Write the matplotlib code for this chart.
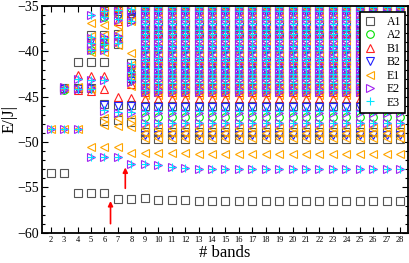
import matplotlib
matplotlib.use('Agg')
import matplotlib.pyplot as plt
from matplotlib.ticker import MultipleLocator

plt.rcParams['font.family'] = ['Liberation Serif', 'DejaVu Serif']

## Data

bands = list(range(2, 29))

# lowest clean levels, one entry per band (None = absent)
a1_low = [-53.4, -53.4, -55.6, -55.6, -55.6, -56.3, -56.3, -56.2, -56.4, -56.4,
          -56.4, -56.5, -56.5, -56.5, -56.5, -56.5, -56.5, -56.5, -56.5, -56.5,
          -56.5, -56.5, -56.5, -56.5, -56.5, -56.5, -56.5]
e1_low = [None, None, None, -50.5, -50.5, -50.5, -51.2, -51.2, -51.2, -51.2,
          -51.2, -51.3, -51.3, -51.3, -51.3, -51.3, -51.3, -51.3, -51.3, -51.3,
          -51.3, -51.3, -51.3, -51.3, -51.3, -51.3, -51.3]
e23_low = [-48.6, -48.6, -48.6, -51.6, -51.6, -51.6, -52.4, -52.4, -52.5, -52.7,
           -52.9, -53.0, -53.0, -53.0, -53.0, -53.0, -53.0, -53.0, -53.0, -53.0,
           -53.0, -53.0, -53.0, -53.0, -53.0, -53.0, -53.0]
e1_first = [-48.6, -48.6, -48.6]   # bands 2-4

# levels of the small bases (bands 3-8), per symmetry
A1_early = {3: [-44.0], 4: [-41.2, -44.0], 5: [-38.2, -39.5, -41.2, -44.0],
            6: [-35.6, -38.2, -39.5, -41.2, -45.8, -47.7],
            7: [-35.5, -38.1, -39.2, -45.9, -47.6],
            8: [-35.4, -36.4, -41.3, -42.9, -45.9, -47.8]}
A2_early = {3: [-44.3], 5: [-39.9], 6: [-36.2, -39.0], 7: [-35.9],
            8: [-35.2, -42.4]}
B1_early = {4: [-42.6, -44.3], 5: [-42.7, -44.4], 6: [-35.4, -42.7, -44.1],
            7: [-35.2, -36.6, -45.0], 8: [-35.8, -41.8, -43.6, -45.1]}
B2_early = {3: [-44.2], 4: [-44.1], 5: [-38.8, -44.2],
            6: [-36.0, -38.7, -45.9], 7: [-36.2, -38.6, -46.0],
            8: [-36.2, -42.2, -43.3, -46.0]}
E1_early = {3: [-44.0], 4: [-43.9],
            5: [-36.9, -38.3, -38.9, -39.6, -40.1, -44.1],
            6: [-35.2, -35.8, -37.1, -38.2, -38.9, -39.5, -40.1, -47.3, -48.1],
            7: [-35.3, -36.0, -37.1, -38.0, -38.6, -39.3, -47.4, -48.2],
            8: [-35.1, -36.6, -40.2, -41.5, -42.7, -43.8, -47.5, -48.3]}
E2_early = {3: [-43.9, -44.3], 4: [-43.0, -44.2],
            5: [-36.0, -38.5, -39.2, -39.8, -43.1, -44.0],
            6: [-35.4, -36.3, -38.4, -39.1, -39.8, -43.1, -46.6],
            7: [-35.6, -36.5, -38.3, -39.0, -46.8],
            8: [-35.5, -36.8, -41.6, -42.5, -43.4, -46.8]}
E3_early = {3: [-44.0], 4: [-43.0, -44.1],
            5: [-36.0, -38.4, -39.1, -39.9, -43.1, -44.1],
            6: [-35.5, -36.2, -38.5, -39.2, -39.9, -43.2, -46.5],
            7: [-35.4, -36.4, -38.4, -39.1, -46.7],
            8: [-35.3, -36.7, -41.4, -42.3, -43.1, -46.7]}

# converged spectrum of the larger bases (bands 9-28)
A1_dense = [-35.1, -36.9, -38.2, -40.3, -41.2, -43.1, -44.2, -46.0, -48.9, -49.7]
A2_dense = [-35.6, -37.8, -39.7, -42.6, -47.2]
B1_dense = [-35.4, -38.0, -40.9, -43.9, -44.5, -45.2]
B2_dense = [-35.5, -37.4, -39.9, -42.2, -44.4, -46.1, -49.2]
E1_dense = [-35.2, -36.3, -37.5, -38.9, -40.2, -41.5, -42.5, -43.2, -43.6, -44.0,
            -44.4, -44.8, -48.5, -49.0, -49.6]
E2_dense = [-35.3, -35.8, -36.2, -36.7, -37.1, -37.5, -38.0, -38.4, -38.8, -39.3,
            -39.6, -40.1, -40.6, -41.0, -41.4, -41.9, -42.3, -42.7, -43.2, -43.6,
            -44.1, -44.5, -46.8, -47.9]
E3_dense = [-35.1, -35.6, -36.4, -37.0, -37.6, -38.1, -38.6, -39.4, -39.9, -40.7,
            -41.1, -41.8, -42.5, -42.9, -43.5, -44.3, -46.6, -47.9]

symmetries = ['A1', 'A2', 'B1', 'B2', 'E1', 'E2', 'E3']
markers = ['s', 'o', '^', 'v', '<', '>', '+']
colors = ['#555555', '#00e000', '#ff2020', '#2020ff', '#ffa500', '#a020f0', '#00e5ff']

early = [A1_early, A2_early, B1_early, B2_early, E1_early, E2_early, E3_early]
dense = [A1_dense, A2_dense, B1_dense, B2_dense, E1_dense, E2_dense, E3_dense]


def collect(k):
    xs, ys = [], []
    for n, vals in early[k].items():
        xs += [n] * len(vals)
        ys += vals
    for n in bands:
        if n >= 9:
            xs += [n] * len(dense[k])
            ys += dense[k]
    name = symmetries[k]
    for n, a, e1, e23 in zip(bands, a1_low, e1_low, e23_low):
        if name == 'A1' and a is not None:
            xs.append(n); ys.append(a)
        if name == 'E1' and e1 is not None:
            xs.append(n); ys.append(e1)
        if name in ('E2', 'E3') and e23 is not None:
            xs.append(n); ys.append(e23)
    if name == 'E1':
        xs += bands[:3]
        ys += e1_first
    return xs, ys


## Plot

fig = plt.figure(figsize=(4.09, 2.63), dpi=100)
ax = fig.add_axes([0.102, 0.115, 0.895, 0.862])

for k in range(7):
    xs, ys = collect(k)
    ax.plot(xs, ys, linestyle='none', marker=markers[k], markersize=5.5,
            markerfacecolor='none', markeredgecolor=colors[k],
            markeredgewidth=0.8, label=symmetries[k])

ax.annotate('', xy=(6.45, -56.5), xytext=(6.45, -59.0),
            arrowprops=dict(arrowstyle='-|>', color='red', lw=1.2,
                            mutation_scale=7, shrinkA=0, shrinkB=0))
ax.annotate('', xy=(7.55, -52.8), xytext=(7.55, -55.1),
            arrowprops=dict(arrowstyle='-|>', color='red', lw=1.2,
                            mutation_scale=7, shrinkA=0, shrinkB=0))

ax.set_xlim(1.33, 28.57)
ax.set_ylim(-60, -35)
ax.yaxis.set_major_locator(MultipleLocator(5))
ax.yaxis.set_minor_locator(MultipleLocator(1))
ax.set_xticks(bands)

ax.tick_params(axis='both', which='both', direction='in', top=True, right=True,
               width=0.8)
ax.tick_params(axis='x', which='major', length=4, labelsize=6, pad=2)
ax.tick_params(axis='y', which='major', length=4, labelsize=10, pad=2)
ax.tick_params(axis='y', which='minor', length=2.2)
for s in ax.spines.values():
    s.set_linewidth(1.3)

ax.set_xlabel('# bands', fontsize=12, labelpad=1)
ax.set_ylabel('E/|J|', fontsize=12, labelpad=0)

leg = ax.legend(loc='upper right', bbox_to_anchor=(0.993, 0.974),
                borderaxespad=0, fontsize=8.5, labelspacing=0.12,
                handlelength=1.0, handletextpad=0.9, borderpad=0.35,
                fancybox=False, framealpha=1, edgecolor='black')
leg.get_frame().set_linewidth(1.2)

fig.savefig('out.png', dpi=100)
